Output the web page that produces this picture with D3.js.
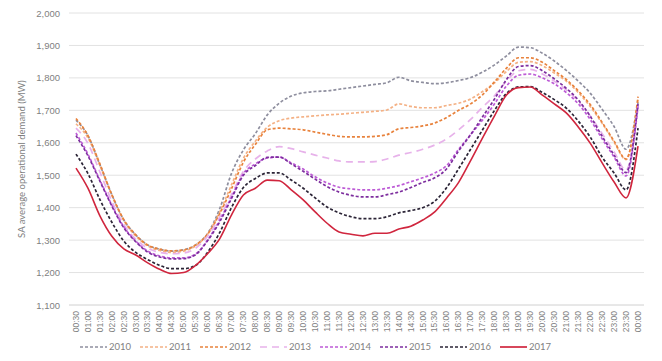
<!DOCTYPE html>
<html>
<head>
<meta charset="utf-8">
<script src="https://cdn.jsdelivr.net/npm/d3@7"></script>
<style>
  body { margin: 0; background: #fff; }
  svg { font-family: "Lato", "Open Sans", sans-serif; }
</style>
</head>
<body>
<div id="chart"></div>
<script>
const times = ["00:30","01:00","01:30","02:00","02:30","03:00","03:30","04:00","04:30","05:00","05:30","06:00",
  "06:30","07:00","07:30","08:00","08:30","09:00","09:30","10:00","10:30","11:00","11:30","12:00",
  "12:30","13:00","13:30","14:00","14:30","15:00","15:30","16:00","16:30","17:00","17:30","18:00",
  "18:30","19:00","19:30","20:00","20:30","21:00","21:30","22:00","22:30","23:00","23:30","00:00"];

const yTicks = [1100, 1200, 1300, 1400, 1500, 1600, 1700, 1800, 1900, 2000];

const years = ["2010", "2011", "2012", "2013", "2014", "2015", "2016", "2017"];

const d2010 = [1670,1622,1532,1440,1362,1316,1285,1272,1266,1270,1285,1320,1395,1505,1578,1628,1686,1722,1744,1754,1758,1760,1765,1770,
  1775,1780,1785,1802,1791,1786,1782,1785,1792,1801,1818,1840,1868,1895,1893,1876,1852,1823,1790,1753,1703,1650,1580,1725];
const d2011 = [1658,1615,1530,1438,1360,1313,1282,1268,1262,1266,1282,1318,1385,1470,1552,1605,1648,1668,1676,1680,1683,1686,1688,1691,
  1694,1697,1701,1720,1712,1708,1708,1715,1722,1735,1758,1785,1820,1848,1850,1838,1815,1790,1755,1712,1660,1602,1548,1735];
const d2012 = [1675,1622,1535,1440,1363,1316,1285,1272,1267,1270,1285,1318,1380,1458,1540,1595,1640,1645,1643,1640,1633,1626,1620,1618,
  1618,1620,1625,1643,1647,1652,1661,1678,1700,1720,1748,1788,1830,1862,1862,1848,1822,1795,1760,1718,1663,1605,1550,1742];
const d2013 = [1645,1598,1510,1420,1348,1303,1275,1262,1258,1260,1275,1312,1370,1440,1512,1550,1575,1588,1582,1572,1562,1553,1544,1541,
  1541,1542,1550,1562,1570,1580,1593,1612,1640,1672,1710,1745,1790,1822,1826,1812,1790,1763,1728,1683,1628,1572,1515,1715];
const d2014 = [1630,1565,1485,1408,1341,1297,1266,1251,1245,1245,1257,1300,1360,1432,1505,1535,1553,1556,1538,1519,1495,1476,1463,1458,
  1455,1455,1460,1468,1480,1492,1507,1530,1580,1625,1670,1720,1775,1808,1812,1800,1782,1755,1720,1672,1612,1556,1498,1712];
const d2015 = [1622,1560,1482,1405,1338,1295,1263,1248,1242,1243,1255,1298,1355,1428,1500,1530,1555,1556,1535,1512,1488,1465,1448,1438,
  1433,1433,1440,1448,1462,1478,1492,1520,1575,1625,1680,1735,1795,1835,1838,1822,1797,1768,1732,1682,1620,1562,1508,1720];
const d2016 = [1565,1505,1425,1355,1297,1262,1240,1222,1212,1212,1222,1262,1322,1400,1462,1490,1507,1507,1485,1460,1430,1402,1384,1372,
  1366,1366,1372,1384,1391,1400,1420,1462,1520,1580,1640,1700,1752,1772,1773,1755,1733,1707,1667,1618,1556,1507,1455,1645];
const d2017 = [1522,1460,1375,1312,1273,1254,1230,1210,1197,1200,1222,1258,1303,1377,1439,1460,1485,1483,1455,1424,1387,1352,1325,1318,
  1313,1321,1321,1334,1343,1362,1387,1430,1478,1545,1615,1683,1747,1770,1772,1747,1720,1692,1649,1599,1538,1479,1430,1590];

const seriesValues = [d2010, d2011, d2012, d2013, d2014, d2015, d2016, d2017];

const colors = ["#8e8e9e", "#f4b185", "#e8823c", "#e7b2ea", "#bd5bd6", "#7d2e9e", "#2b2436", "#d0263e"];
const dashes = ["3,2", "3,2", "3,2", "7,5", "3,2", "3,2", "3,2", null];

const svgWidth = 662;
const svgHeight = 361;
const margin = { top: 13, right: 18, bottom: 56, left: 70 };
const chartWidth = svgWidth - margin.left - margin.right;
const chartHeight = svgHeight - margin.top - margin.bottom;

const svg = d3.select("#chart")
  .append("svg")
  .attr("width", svgWidth)
  .attr("height", svgHeight);

const g = svg.append("g")
  .attr("transform", `translate(${margin.left},${margin.top})`);

const x = d3.scaleBand()
  .domain(d3.range(times.length))
  .range([0, chartWidth]);

const y = d3.scaleLinear()
  .domain([1100, 2000])
  .range([chartHeight, 0]);

// gridlines
g.selectAll(".grid")
  .data(yTicks)
  .enter()
  .append("line")
  .attr("x1", -1)
  .attr("x2", chartWidth)
  .attr("y1", d => y(d))
  .attr("y2", d => y(d))
  .attr("stroke", d => d === 1100 ? "#d0d0d0" : "#e2e2e2")
  .attr("stroke-width", 1);

// y axis labels
const yAxis = g.append("g")
  .call(d3.axisLeft(y).tickValues(yTicks).tickFormat(d3.format(",")).tickSize(0).tickPadding(10));
yAxis.select(".domain").remove();
yAxis.selectAll("text")
  .style("font-size", "9.5px")
  .style("fill", "#7f7f7f");

// x axis labels
const xAxis = g.append("g")
  .attr("transform", `translate(0,${chartHeight})`)
  .call(d3.axisBottom(x).tickFormat(i => times[i]).tickSize(0));
xAxis.select(".domain").remove();
xAxis.selectAll("text")
  .attr("transform", "rotate(-90)")
  .attr("x", -6)
  .attr("y", 0)
  .attr("dy", "0.32em")
  .style("text-anchor", "end")
  .style("font-size", "8.5px")
  .style("fill", "#7f7f7f");

// y axis title
svg.append("text")
  .attr("transform", `translate(25,${margin.top + chartHeight / 2}) rotate(-90)`)
  .attr("text-anchor", "middle")
  .style("font-size", "9.5px")
  .style("fill", "#7f7f7f")
  .text("SA average operational demand (MW)");

const line = d3.line()
  .x((d, i) => x(i) + x.bandwidth() / 2)
  .y(d => y(d))
  .curve(d3.curveMonotoneX);

years.forEach((yr, k) => {
  g.append("path")
    .datum(seriesValues[k])
    .attr("fill", "none")
    .attr("stroke", colors[k])
    .attr("stroke-width", k === 7 ? 1.6 : 1.7)
    .attr("stroke-dasharray", dashes[k])
    .attr("d", line);
});

// legend
const legend = svg.append("g")
  .attr("transform", "translate(80,347)");

const item = legend.selectAll(".item")
  .data(years)
  .enter()
  .append("g")
  .attr("transform", (d, k) => `translate(${k * 60},0)`);

item.append("line")
  .attr("x1", 0)
  .attr("x2", 27)
  .attr("y1", 0)
  .attr("y2", 0)
  .attr("stroke", (d, k) => colors[k])
  .attr("stroke-width", 1.7)
  .attr("stroke-dasharray", (d, k) => dashes[k]);

item.append("text")
  .attr("x", 29)
  .attr("y", 0)
  .attr("dy", "0.35em")
  .style("font-size", "9.5px")
  .style("fill", "#7f7f7f")
  .text(d => d);
</script>
</body>
</html>
